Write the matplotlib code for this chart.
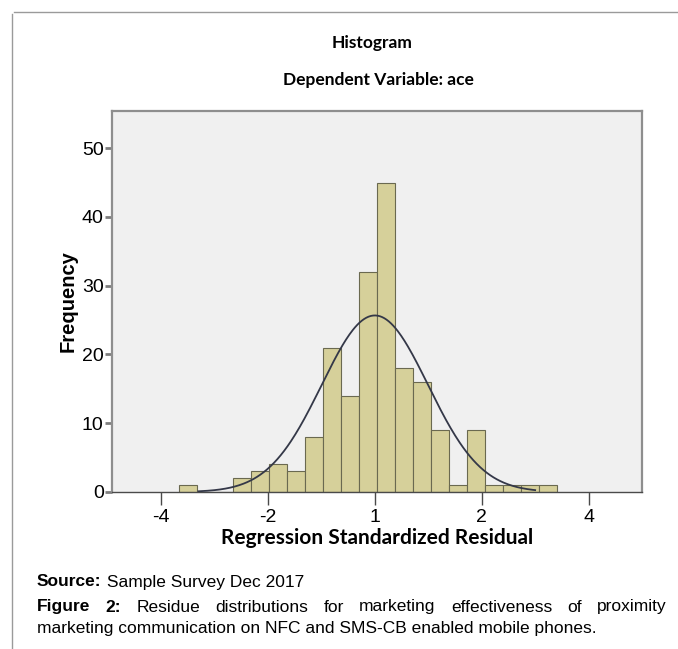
#!/usr/bin/env python3
# -*- coding: utf-8 -*-

import numpy as np
import matplotlib
matplotlib.use('Agg')
import matplotlib.pyplot as plt

#------------------------------------------------------------------------------
# Data
#------------------------------------------------------------------------------
bin_edges = [-3.670, -3.333, -2.996, -2.659, -2.322, -1.985, -1.648, -1.311,
             -0.974, -0.637, -0.300,  0.037,  0.374,  0.711,  1.048,  1.385,
              1.722,  2.059,  2.396,  2.733,  3.070,  3.407]
frequency = [1, 0, 0, 2, 3, 4, 3, 8, 21, 14, 32, 45, 18, 16, 9, 1, 9, 1, 1, 1, 1]

# Normal curve fitted to the residuals
residual_mean = 0.0
residual_std  = 0.995
curve_start   = -3.3
curve_end     = 3.0

x_ticks       = [-4, -2, 0, 2, 4]
x_tick_labels = ['-4', '-2', '1', '2', '4']
y_ticks       = [0, 10, 20, 30, 40, 50]

title_text    = 'Histogram'
subtitle_text = 'Dependent Variable: ace'
x_label_text  = 'Regression Standardized Residual'
y_label_text  = 'Frequency'
source_bold   = 'Source:'
source_text   = ' Sample Survey Dec 2017'
caption_line1 = ['Figure', '2:', 'Residue', 'distributions', 'for', 'marketing',
                 'effectiveness', 'of', 'proximity']
caption_line2 = 'marketing communication on NFC and SMS-CB enabled mobile phones.'

#------------------------------------------------------------------------------
# Main
#------------------------------------------------------------------------------
def main():

  # Figure size in pixels
  width  = 678
  height = 649

  # Make new window
  fig = plt.figure(figsize = (width / 100, height / 100), dpi = 100)
  fig.patch.set_facecolor('white')

  # Axes box (pixels from top-left)
  left, top, right, bottom = 112, 111, 642, 492
  ax = fig.add_axes([left / width, 1 - bottom / height, \
                     (right - left) / width, (bottom - top) / height])

  # Plot histogram
  edges  = np.array(bin_edges)
  widths = np.diff(edges)
  ax.bar(edges[:-1], frequency, width = widths, align = 'edge', \
         color = '#d6d09a', edgecolor = '#6a6950', linewidth = 0.8, zorder = 2)

  # Plot normal curve
  bin_width = float(np.mean(widths))
  n_obs     = sum(frequency)
  x_curve   = np.linspace(curve_start, curve_end, 300)
  y_curve   = n_obs * bin_width / (residual_std * np.sqrt(2 * np.pi)) * \
              np.exp(-0.5 * ((x_curve - residual_mean) / residual_std) ** 2)
  ax.plot(x_curve, y_curve, color = '#343848', linewidth = 1.3, zorder = 3)

  # Axes style
  ax.set_facecolor('#f0f0f0')
  ax.set_xlim(-4.92, 5.0)
  ax.set_ylim(0, 55.4)
  for name in ['top', 'right', 'left']:
    ax.spines[name].set_color('#8e8e8e')
    ax.spines[name].set_linewidth(1.6)
  ax.spines['bottom'].set_color('#4a4a4a')
  ax.spines['bottom'].set_linewidth(1.0)

  # Ticks
  ax.set_xticks(x_ticks)
  ax.set_xticklabels(x_tick_labels)
  ax.set_yticks(y_ticks)
  ax.tick_params(axis = 'x', direction = 'out', length = 9, width = 1.0, \
                 color = '#4a4a4a', labelsize = 14, pad = 3)
  ax.tick_params(axis = 'y', direction = 'out', length = 5, width = 2.0, \
                 color = '#7e7e7e', labelsize = 14, pad = 1)
  for label in ax.get_xticklabels() + ax.get_yticklabels():
    label.set_family('Liberation Sans')

  # Axis labels
  ax.set_xlabel(x_label_text, fontsize = 15, fontweight = 'bold', \
                family = 'Lato', labelpad = 2)
  ax.set_ylabel(y_label_text, fontsize = 14.5, fontweight = 'bold', \
                family = 'Liberation Sans', labelpad = 3)

  # Titles
  fig.text(372 / width, 1 - 43 / height, title_text, ha = 'center', \
           va = 'center', fontsize = 12.5, fontweight = 'bold', family = 'Lato')
  fig.text(378 / width, 1 - 80 / height, subtitle_text, ha = 'center', \
           va = 'center', fontsize = 12.5, fontweight = 'bold', family = 'Lato')

  # Page border
  fig.add_artist(plt.Line2D([14 / width, 1], [1 - 12 / height] * 2, \
                            color = '#9a9a9a', linewidth = 1.0))
  fig.add_artist(plt.Line2D([12 / width] * 2, [0, 1 - 14 / height], \
                            color = '#9a9a9a', linewidth = 1.0))

  # Source line
  renderer = fig.canvas.get_renderer()
  source = fig.text(37 / width, 1 - 582 / height, source_bold, ha = 'left', \
                    va = 'center', fontsize = 12.5, fontweight = 'bold', \
                    family = 'Liberation Sans')
  source_width = source.get_window_extent(renderer).width
  fig.text((37 + source_width) / width, 1 - 582 / height, source_text, \
           ha = 'left', va = 'center', fontsize = 12.5, \
           family = 'Liberation Sans')

  # Caption, first line justified
  draw_justified(fig, renderer, caption_line1, 37, 667, 607, width, height)

  # Caption, second line
  fig.text(37 / width, 1 - 629 / height, caption_line2, ha = 'left', \
           va = 'center', fontsize = 12.5, family = 'Liberation Sans')

  # Save figure
  fig.savefig('out.png', dpi = 100)

  # Close figure
  plt.close(fig)
#------------------------------------------------------------------------------

#------------------------------------------------------------------------------
# Draw a justified line of words
#------------------------------------------------------------------------------
def draw_justified(fig, renderer, words, x_start, x_end, y, width, height):

  # Make texts (first two words bold)
  texts = []
  for counter, word in enumerate(words):
    weight = 'bold' if counter < 2 else 'normal'
    texts.append(fig.text(0, 1 - y / height, word, ha = 'left', \
                          va = 'center', fontsize = 12.5, fontweight = weight, \
                          family = 'Liberation Sans'))

  # Get word widths
  word_widths = [t.get_window_extent(renderer).width for t in texts]

  # Get gap
  gap = (x_end - x_start - sum(word_widths)) / (len(words) - 1)

  # Place words
  position = x_start
  for text, word_width in zip(texts, word_widths):
    text.set_x(position / width)
    position += word_width + gap
#------------------------------------------------------------------------------

#------------------------------------------------------------------------------
# Call main
#------------------------------------------------------------------------------
if __name__ == '__main__':
  main()
#------------------------------------------------------------------------------
